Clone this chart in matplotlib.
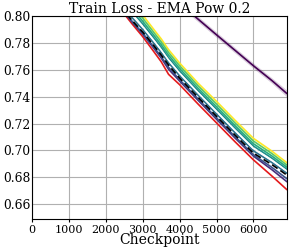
import matplotlib
matplotlib.use("Agg")
import matplotlib.pyplot as plt
from matplotlib import cm

plt.rcParams['font.family'] = ['DejaVu Serif']

# checkpoints shared by the main bundle of runs
checkpoints = [2400, 2700, 3000, 3300, 3500, 3700, 4000, 4500, 5000, 5500, 6000, 6500, 6900]

loss_red = [0.805, 0.7945, 0.7846, 0.7735, 0.766, 0.7566, 0.7489, 0.7345, 0.7205, 0.7065, 0.693, 0.681, 0.671]
loss_baseline = [0.807, 0.797, 0.788, 0.778, 0.771, 0.7635, 0.7538, 0.7395, 0.7254, 0.7115, 0.698, 0.6895, 0.6818]
loss_white = [0.8118, 0.8015, 0.7921, 0.7818, 0.7748, 0.7672, 0.7574, 0.7429, 0.7290, 0.7150, 0.7015, 0.6927, 0.6847]

# viridis runs, ordered by colormap position (0.125 ... 1.0)
loss_viridis = {
    0.125: [0.8061, 0.7959, 0.7865, 0.776, 0.7688, 0.7604, 0.7516, 0.7373, 0.7232, 0.7093, 0.6958, 0.6857, 0.6769],
    0.25: [0.8065, 0.7964, 0.7872, 0.7769, 0.7698, 0.7618, 0.7526, 0.7383, 0.7242, 0.7103, 0.6968, 0.6874, 0.6791],
    0.375: [0.8093, 0.7991, 0.7899, 0.7798, 0.7728, 0.7652, 0.7555, 0.7411, 0.7271, 0.7132, 0.6997, 0.6910, 0.6832],
    0.5: [0.8142, 0.8037, 0.7941, 0.7838, 0.7768, 0.7690, 0.7592, 0.7445, 0.7307, 0.7168, 0.7033, 0.6943, 0.6862],
    0.625: [0.8166, 0.806, 0.7961, 0.7857, 0.7787, 0.7709, 0.7610, 0.7462, 0.7325, 0.7185, 0.7050, 0.6959, 0.6877],
    0.75: [0.8193, 0.8085, 0.7984, 0.7878, 0.7808, 0.7729, 0.7630, 0.7481, 0.7345, 0.7205, 0.7070, 0.6977, 0.6893],
    1.0: [0.822, 0.811, 0.8007, 0.790, 0.783, 0.775, 0.765, 0.750, 0.7365, 0.7225, 0.709, 0.6995, 0.691],
}

# the slow run (viridis 0) with its spread
purple_ckpt = [4200, 4400, 4700, 5000, 5500, 6000, 6500, 6900]
purple_loss = [0.8045, 0.800, 0.793, 0.786, 0.7745, 0.763, 0.752, 0.7425]
purple_lo = [0.8025, 0.798, 0.791, 0.784, 0.7725, 0.761, 0.750, 0.7400]
purple_hi = [0.8065, 0.802, 0.795, 0.788, 0.7765, 0.765, 0.754, 0.7450]

fig, ax = plt.subplots(figsize=(2.89, 2.52), dpi=100)
fig.subplots_adjust(left=0.111, right=0.993, top=0.9365, bottom=0.131)

ax.fill_between(purple_ckpt, purple_lo, purple_hi, color=cm.viridis(0.0), alpha=0.2, lw=0)
ax.plot(purple_ckpt, purple_loss, color=cm.viridis(0.0), lw=1.2)

ax.plot(checkpoints, loss_red, color='#e41a1c', lw=1.2)
ax.plot(checkpoints, loss_viridis[0.125], color=cm.viridis(0.125), lw=1.2)
ax.plot(checkpoints, loss_viridis[0.25], color=cm.viridis(0.25), lw=1.2)
for pos in [1.0, 0.75, 0.625, 0.5, 0.375]:
    ax.plot(checkpoints, loss_viridis[pos], color=cm.viridis(pos), lw=1.2)
ax.plot(checkpoints, loss_white, color='white', lw=1.0)
ax.plot(checkpoints, loss_baseline, color='black', lw=1.2, ls='--', dashes=(4, 2))

ax.set_xlim(0, 6910)
ax.set_ylim(0.649, 0.80)
ax.set_xticks(range(0, 7000, 1000))
ax.set_yticks([0.66, 0.68, 0.70, 0.72, 0.74, 0.76, 0.78, 0.80])
ax.set_yticklabels(['%.2f' % v for v in ax.get_yticks()])
ax.tick_params(axis='x', labelsize=8, length=2, width=0.8, pad=2)
ax.tick_params(axis='y', labelsize=8.8, length=0, pad=1)
ax.grid(True, color='#b0b0b0', lw=0.8)
ax.set_axisbelow(True)

ax.set_title('Train Loss - EMA Pow 0.2', fontsize=10, pad=2)
ax.set_xlabel('Checkpoint', fontsize=10, labelpad=-1)

plt.savefig('out.png', dpi=100)
